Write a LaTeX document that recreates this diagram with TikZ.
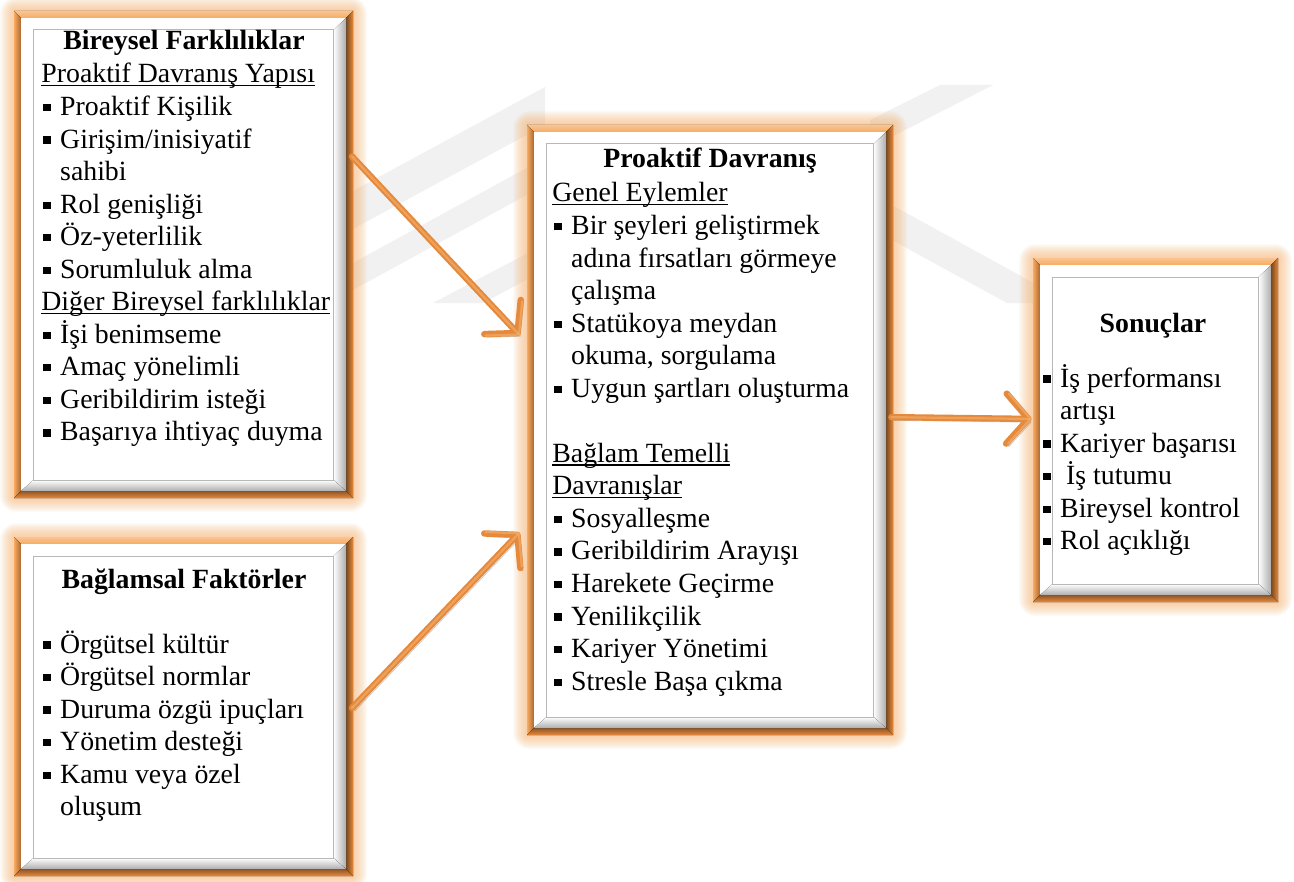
\documentclass[tikz,border=0pt]{standalone}
\usepackage{fontspec}
\setmainfont{Liberation Serif}
\usetikzlibrary{arrows.meta,calc,fit}

\definecolor{wm}{HTML}{F1F1F1}
\definecolor{glowc}{HTML}{FAB36C}
\definecolor{frmid}{HTML}{E5893B}
\definecolor{frlight}{HTML}{F7AB63}
\definecolor{frdark}{HTML}{7A471C}
\definecolor{frbot}{HTML}{8F5526}
\definecolor{arrowc}{HTML}{E58A3C}
\definecolor{arrowhi}{HTML}{F9BE82}

% underlined heading, rule just under the baseline
\newsavebox\ulbox
\newcommand\uln[1]{\sbox\ulbox{#1}\rlap{\rule[-1.7pt]{\wd\ulbox}{0.7pt}}\usebox\ulbox}
% square bullet and hanging indent
\newcommand\bul{\hbox to 9.4pt{\hskip1pt\rule[2.2pt]{3.6pt}{3.6pt}\hfil}}
\newcommand\ind{\hskip9.4pt}
% stacked lines, baseline = first line
\newcommand\textcol[1]{\vtop{\lineskiplimit=-20pt #1}}

% glowing orange frame with bevelled white panel; #1 name, (#2,#3)-(#4,#5) outer corners
\newcommand\glowbox[5]{%
  \foreach \g [evaluate=\g as \rc using 0.6*\g] in {1,...,14}{%
    \fill[glowc, opacity=0.055, rounded corners=\rc pt] (#2-\g,#3-\g) rectangle (#4+\g,#5+\g);}
  \fill[frmid] (#2,#3) rectangle (#4,#5);
  \fill[top color=frlight!70!white, bottom color=frlight] (#2,#3) -- (#4,#3) -- (#4-7,#3+7) -- (#2+7,#3+7) -- cycle;
  \fill[left color=frlight, right color=frmid!75!black] (#2,#3) -- (#2+7,#3+7) -- (#2+7,#5-7) -- (#2,#5) -- cycle;
  \fill[left color=frdark, right color=frmid] (#4,#3) -- (#4,#5) -- (#4-7,#5-7) -- (#4-7,#3+7) -- cycle;
  \fill[top color=frbot, bottom color=frmid] (#2,#5) -- (#4,#5) -- (#4-7,#5-7) -- (#2+7,#5-7) -- cycle;
  \fill[white] (#2+7,#3+7) rectangle (#4-7,#5-7);
  \fill[left color=white, right color=black!32] (#4-19.5,#3+19) -- (#4-7,#3+7) -- (#4-7,#5-7) -- (#4-19.5,#5-18) -- cycle;
  \fill[top color=white, bottom color=black!32] (#2+19.5,#5-18) -- (#4-19.5,#5-18) -- (#4-7,#5-7) -- (#2+7,#5-7) -- cycle;
  \draw[black!28, line width=0.5pt] (#2+19.5,#3+19) rectangle (#4-19.5,#5-18);
  \node[fit={(#2,#3) (#4,#5)}, inner sep=0pt] (#1) {};
}

\begin{document}
\begin{tikzpicture}[x=0.5pt, y=-0.5pt,
  txt/.style={inner sep=0pt, font=\fontsize{13.9pt}{16.27pt}\selectfont},
  ttl/.style={txt, anchor=base, font=\fontsize{13.9pt}{16.27pt}\selectfont\bfseries},
  body/.style={txt, anchor=base west},
  band/.style={fill=wm},
  conn/.style={draw=arrowc, line width=3.2pt, line cap=round,
    -{Straight Barb[length=11pt, width=25pt, round]},
    preaction={draw=black, opacity=0.2, transform canvas={shift={(1.3pt,-1.6pt)}}},
    postaction={draw=arrowhi, line width=1.1pt, opacity=0.45}}]

\fill[white] (0,0) rectangle (1294,882);
\useasboundingbox (0,0) rectangle (1294,882);

% faint background emblem
\fill[band] (545,87) -- (545,125) -- (340,236) -- (340,198) -- cycle;
\fill[band] (545,158) -- (545,185) -- (340,297) -- (340,270) -- cycle;
\fill[band] (545,244) -- (545,270) -- (483,303) -- (433,303) -- cycle;
\fill[band] (940,85) -- (993,85) -- (870,148) -- (870,120) -- cycle;
\fill[band] (870,193) -- (1070,303) -- (1007,303) -- (870,228) -- cycle;

% panels
\glowbox{b1}{14}{11}{353}{498}
\glowbox{b2}{14}{537}{353}{876}
\glowbox{b3}{527}{125}{893}{735}
\glowbox{b4}{1033}{258}{1278}{602}

% Bireysel Farklılıklar
\node[ttl] (h1) at (184,50) {Bireysel Farklılıklar};
\node[body] (t1) at (41,83) {\textcol{%
  \hbox{\uln{Proaktif Davranış Yapısı}}
  \hbox{\bul Proaktif Kişilik}
  \hbox{\bul Girişim/inisiyatif}
  \hbox{\ind sahibi}
  \hbox{\bul Rol genişliği}
  \hbox{\bul Öz-yeterlilik}
  \hbox{\bul Sorumluluk alma}
  \hbox{\uln{Diğer Bireysel farklılıklar}}
  \hbox{\bul İşi benimseme}
  \hbox{\bul Amaç yönelimli}
  \hbox{\bul Geribildirim isteği}
  \hbox{\bul Başarıya ihtiyaç duyma}}};

% Bağlamsal Faktörler
\node[ttl] (h2) at (184,588) {Bağlamsal Faktörler};
\node[body] (t2) at (41,653) {\textcol{%
  \hbox{\bul Örgütsel kültür}
  \hbox{\bul Örgütsel normlar}
  \hbox{\bul Duruma özgü ipuçları}
  \hbox{\bul Yönetim desteği}
  \hbox{\bul Kamu veya özel}
  \hbox{\ind oluşum}}};

% Proaktif Davranış
\node[ttl] (h3) at (710,168) {Proaktif Davranış};
\node[body] (t3) at (552,202) {\textcol{%
  \hbox{\uln{Genel Eylemler}}
  \hbox{\bul Bir şeyleri geliştirmek}
  \hbox{\ind adına fırsatları görmeye}
  \hbox{\ind çalışma}
  \hbox{\bul Statükoya meydan}
  \hbox{\ind okuma, sorgulama}
  \hbox{\bul Uygun şartları oluşturma}
  \hbox{}
  \hbox{\uln{Bağlam Temelli}}
  \hbox{\uln{Davranışlar}}
  \hbox{\bul Sosyalleşme}
  \hbox{\bul Geribildirim Arayışı}
  \hbox{\bul Harekete Geçirme}
  \hbox{\bul Yenilikçilik}
  \hbox{\bul Kariyer Yönetimi}
  \hbox{\bul Stresle Başa çıkma}}};

% Sonuçlar
\node[ttl] (h4) at (1153,332) {Sonuçlar};
\node[body] (t4) at (1041,387) {\textcol{%
  \hbox{\bul İş performansı}
  \hbox{\ind artışı}
  \hbox{\bul Kariyer başarısı}
  \hbox{\bul\hskip3pt İş tutumu}
  \hbox{\bul Bireysel kontrol}
  \hbox{\bul Rol açıklığı}}};

% connectors
\draw[conn, shorten <=-1pt, shorten >=5pt]
  ($(b1.north east)!0.302!(b1.south east)$) -- ($(b3.north west)!0.357!(b3.south west)$);
\draw[conn, shorten <=-1pt, shorten >=5pt]
  (b2.east) -- ($(b3.north west)!0.656!(b3.south west)$);
\draw[conn, shorten <=-1pt, shorten >=0.5pt]
  ($(b3.north east)!0.479!(b3.south east)$) -- ($(b4.north west)!0.468!(b4.south west)$);

\end{tikzpicture}
\end{document}
